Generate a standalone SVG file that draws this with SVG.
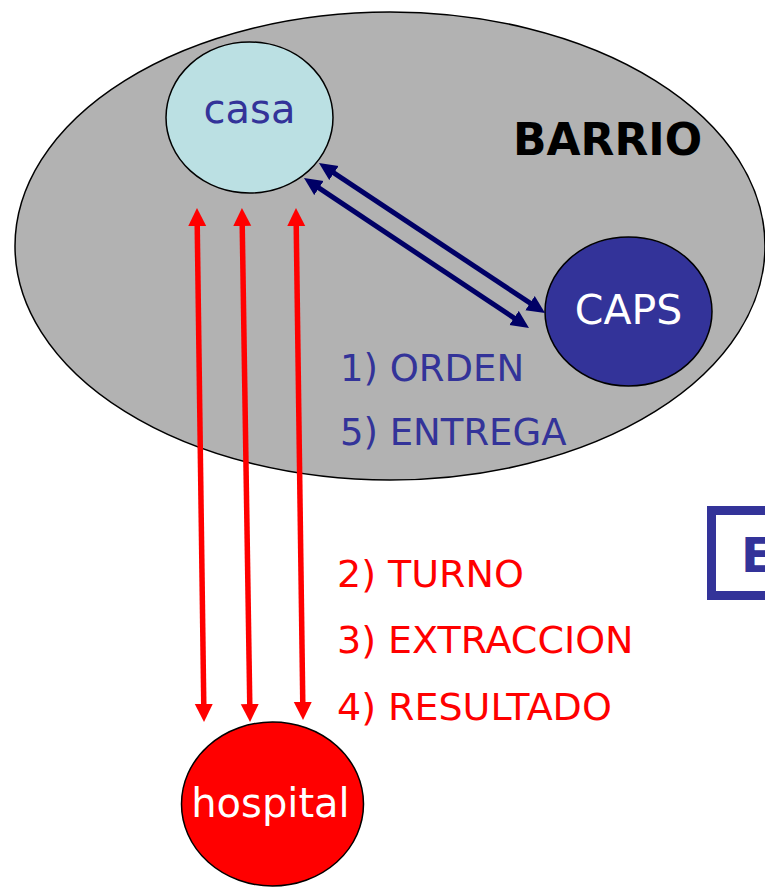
<svg xmlns="http://www.w3.org/2000/svg" width="765" height="887" viewBox="0 0 765 887">
<style>
.node{stroke:#000;stroke-width:1.5}
.t{font-family:"DejaVu Sans","Liberation Sans",sans-serif}
.lbl{font-family:"DejaVu Sans","Liberation Sans",sans-serif;font-size:37px}
.lblr{font-family:"DejaVu Sans","Liberation Sans",sans-serif;font-size:38px;fill:#FF0000}
.red{stroke:#FF0000;stroke-width:5.5;fill:none}
.navy{stroke:#000066;stroke-width:5;fill:none}
</style>
<defs>
<marker id="hr" markerUnits="userSpaceOnUse" markerWidth="20" markerHeight="19" refX="2" refY="9" orient="auto-start-reverse" viewBox="0 0 20 18">
<path d="M0,0 L18,9 L0,18 z" fill="#FF0000"/>
</marker>
<marker id="hb" markerUnits="userSpaceOnUse" markerWidth="20" markerHeight="18" refX="2" refY="8.5" orient="auto-start-reverse" viewBox="0 0 20 17">
<path d="M0,0 L18,8.5 L0,17 z" fill="#000066"/>
</marker>
</defs>
<rect width="765" height="887" fill="#FFFFFF"/>
<g id="barrio">
<ellipse cx="390" cy="246" rx="375" ry="234" fill="#B2B2B2" class="node"/>
<text x="513" y="155" class="t" font-size="44" font-weight="bold" fill="#000">BARRIO</text>
</g>
<g id="casa">
<ellipse cx="249.5" cy="117.5" rx="83.5" ry="75.5" fill="#BBE0E3" class="node"/>
<text x="249.5" y="123" class="t" font-size="40" fill="#333399" text-anchor="middle">casa</text>
</g>
<g id="caps">
<ellipse cx="628.5" cy="311.5" rx="83.5" ry="74.5" fill="#333399" class="node"/>
<text x="628.5" y="324" class="t" font-size="41" fill="#FFFFFF" text-anchor="middle">CAPS</text>
</g>
<g id="hospital">
<ellipse cx="272.5" cy="804" rx="91" ry="82" fill="#FF0000" class="node"/>
<text x="270.5" y="817" class="t" font-size="40" fill="#FFFFFF" text-anchor="middle">hospital</text>
</g>
<g id="connectors">
<line x1="332.3" y1="171.9" x2="531.7" y2="304.2" class="navy" marker-start="url(#hb)" marker-end="url(#hb)"/>
<line x1="317.3" y1="186.9" x2="515.7" y2="319.1" class="navy" marker-start="url(#hb)" marker-end="url(#hb)"/>
<line x1="197.2" y1="224" x2="203.8" y2="706" class="red" marker-start="url(#hr)" marker-end="url(#hr)"/>
<line x1="242.2" y1="224" x2="249.8" y2="706" class="red" marker-start="url(#hr)" marker-end="url(#hr)"/>
<line x1="296.2" y1="224" x2="302.8" y2="704" class="red" marker-start="url(#hr)" marker-end="url(#hr)"/>
</g>
<g id="labels">
<text x="340" y="381" class="lbl" fill="#333399">1) ORDEN</text>
<text x="340" y="445" class="lbl" fill="#333399">5) ENTREGA</text>
<text x="337" y="587" class="lblr">2) TURNO</text>
<text x="337" y="653" class="lblr">3) EXTRACCION</text>
<text x="337" y="720" class="lblr">4) RESULTADO</text>
</g>
<g id="box">
<rect x="711.5" y="510.5" width="80" height="85" fill="none" stroke="#333399" stroke-width="9"/>
<text x="741" y="572" class="t" font-size="48" font-weight="bold" fill="#333399">E</text>
</g>
</svg>
